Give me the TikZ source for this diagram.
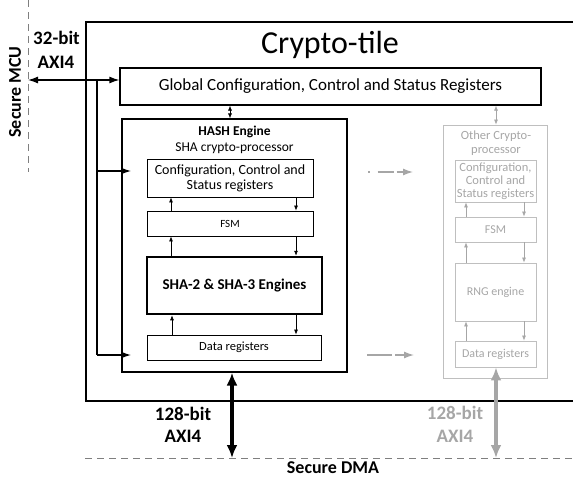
\documentclass[tikz,border=0pt]{standalone}
\usepackage{fontspec}
\setmainfont{Carlito}
\usetikzlibrary{arrows.meta}
\definecolor{gtext}{HTML}{A6A6A6}
\definecolor{gbox}{HTML}{BFBFBF}
\definecolor{dline}{HTML}{7F7F7F}
\newcommand{\fs}[1]{\fontsize{#1}{#1}\selectfont\baselineskip=1.2\baselineskip}
\begin{document}
\begin{tikzpicture}[x=1pt,y=-1pt,
  blk/.style={draw, line width=0.8pt, inner sep=0pt, align=center},
  gblk/.style={draw=gbox, line width=0.8pt, inner sep=0pt, align=center, text=gtext},
  sarr/.style={-{Latex[length=5pt,width=4pt]}, line width=0.7pt},
  marr/.style={-{Latex[length=10pt,width=7pt]}, line width=1.3pt},
  bigarr/.style={{Latex[length=13pt,width=11pt]}-{Latex[length=13pt,width=11pt]}, line width=3.5pt},
  lbl/.style={font=\fs{19}\bfseries, inner sep=0pt, align=center},
  dsh/.style={dash pattern=on 7pt off 5pt, line width=1pt, draw=dline}
]
\useasboundingbox (0,0) rectangle (573,477);
\begin{scope}
\clip (0,0) rectangle (573,477);
% outer crypto-tile
\draw[line width=1.5pt] (580,22) -- (86,22) -- (86,401) -- (580,401);
\node[font=\fs{32}] (title) at (330,45) {Crypto-tile};
% global config
\node[blk, line width=1.2pt, minimum width=421pt, minimum height=37pt, font=\fs{17}] (gcr) at (330.5,86.5) {Global Configuration, Control and Status Registers};
% hash engine
\node[blk, line width=1.2pt, minimum width=225pt, minimum height=253pt] (hash) at (234.5,245.5) {};
\node[font=\fs{13.5}\bfseries, inner sep=0pt] (hasht) at (234.5,132) {HASH Engine};
\node[font=\fs{13.5}, inner sep=0pt] (hashs) at (234.5,148) {SHA crypto-processor};
\node[blk, minimum width=166pt, minimum height=38pt, font=\fs{14}] (cfg) at (230,178) {Configuration, Control and\\[-2pt]Status registers};
\node[blk, minimum width=166pt, minimum height=25pt, font=\fs{11}] (fsm) at (230,223.5) {FSM};
\node[blk, line width=2.5pt, minimum width=175pt, minimum height=57pt, font=\fs{15}\bfseries] (sha) at (234.5,285.5) {SHA-2 \& SHA-3 Engines};
\node[blk, minimum width=174pt, minimum height=25pt, font=\fs{12.5}] (dreg) at (234,347.5) {Data registers};
% inner arrows
\draw[sarr] (fsm.north -| 171,0) -- (cfg.south -| 171,0);
\draw[sarr] (cfg.south -| 296,0) -- (fsm.north -| 296,0);
\draw[sarr] (sha.north -| 171,0) -- (fsm.south -| 171,0);
\draw[sarr] (fsm.south -| 296,0) -- (sha.north -| 296,0);
\draw[sarr] (dreg.north -| 172,0) -- (sha.south -| 172,0);
\draw[sarr] (sha.south -| 296,0) -- (dreg.north -| 296,0);
% other crypto-processor
\node[gblk, minimum width=104pt, minimum height=253pt] (other) at (495,251.5) {};
\node[font=\fs{12.5}, text=gtext, align=center, inner sep=0pt] (othert) at (496,143) {Other Crypto-\\[-1pt]processor};
\node[gblk, minimum width=81pt, minimum height=42pt, font=\fs{12.5}] (ocfg) at (495.5,181) {Configuration,\\[-2pt]Control and\\[-2pt]Status registers};
\node[gblk, minimum width=81pt, minimum height=25pt, font=\fs{12}] (ofsm) at (495.5,229.5) {FSM};
\node[gblk, minimum width=81pt, minimum height=58pt, font=\fs{12}] (orng) at (495.5,292) {RNG engine};
\node[gblk, minimum width=81pt, minimum height=26pt, font=\fs{12}] (odreg) at (495.5,354) {Data registers};
\tikzset{gs/.style={-{Latex[length=5pt,width=4pt]}, line width=0.7pt, draw=gtext}}
\draw[gs] (ofsm.north -| 466,0) -- (ocfg.south -| 466,0);
\draw[gs] (ocfg.south -| 524,0) -- (ofsm.north -| 524,0);
\draw[gs] (orng.north -| 466,0) -- (ofsm.south -| 466,0);
\draw[gs] (ofsm.south -| 524,0) -- (orng.north -| 524,0);
\draw[gs] (odreg.north -| 466,0) -- (orng.south -| 466,0);
\draw[gs] (orng.south -| 524,0) -- (odreg.north -| 524,0);
% gcr to engines
\draw[{Latex[length=5pt,width=4pt]}-{Latex[length=5pt,width=4pt]}, line width=0.7pt] (gcr.south -| 230,0) -- (hash.north -| 230,0);
\draw[{Latex[length=5pt,width=4pt]}-{Latex[length=5pt,width=4pt]}, line width=0.7pt, draw=gtext] (gcr.south -| 496,0) -- (other.north -| 496,0);
% secure MCU
\coordinate (mcutop) at (28,0);
\coordinate (mcubot) at (28,172);
\draw[dsh] (mcutop) -- (mcubot);
\node[lbl, font=\fs{18}\bfseries, rotate=90] (mcu) at (15,92) {Secure MCU};
\node[lbl] (b32) at (56.5,38) {32-bit};
\node[lbl] (axi32) at (56,62) {AXI4};
\coordinate (mcuA) at (28,80);
\draw[{Latex[length=10pt,width=7pt]}-{Latex[length=10pt,width=7pt]}, line width=1.3pt] (mcuA) -- (mcuA -| gcr.west);
% left bus
\coordinate (busT) at (97,80);
\coordinate (busB) at (97,355);
\coordinate (busC) at (97,171);
\coordinate (tipC) at (131,171);
\coordinate (tipD) at (131,355);
\draw[line width=1.3pt] (busT) -- (busB);
\draw[marr] (busC) -- (tipC);
\draw[marr] (busB) -- (tipD);
% secure DMA
\coordinate (dmaL) at (85,458);
\coordinate (dmaR) at (575,458);
\draw[dsh] (dmaL) -- (dmaR);
\node[lbl, font=\fs{18}\bfseries] (dma) at (333,467.5) {Secure DMA};
\draw[bigarr] (hash.south -| 232,0) -- (232,458);
\node[lbl] (b128) at (183,414) {128-bit};
\node[lbl] (axi128) at (183,436) {AXI4};
\draw[bigarr, draw=gtext] (odreg.south -| 496,0) -- (496,458);
\node[lbl, text=gtext] (gb128) at (455,413) {128-bit};
\node[lbl, text=gtext] (gaxi128) at (455,436) {AXI4};
% gray dashed arrows
\coordinate (ga1) at (368,172);
\coordinate (ga1e) at (413,172);
\coordinate (ga2) at (367,355);
\coordinate (ga2e) at (414,355);
\draw[-{Latex[length=10pt,width=7pt]}, line width=1.3pt, draw=gtext, dash pattern=on 1.5pt off 8pt on 16pt off 3pt on 30pt] (ga1) -- (ga1e);
\draw[-{Latex[length=10pt,width=7pt]}, line width=1.3pt, draw=gtext, dash pattern=on 25pt off 3pt on 30pt] (ga2) -- (ga2e);
\end{scope}
\end{tikzpicture}
\end{document}
